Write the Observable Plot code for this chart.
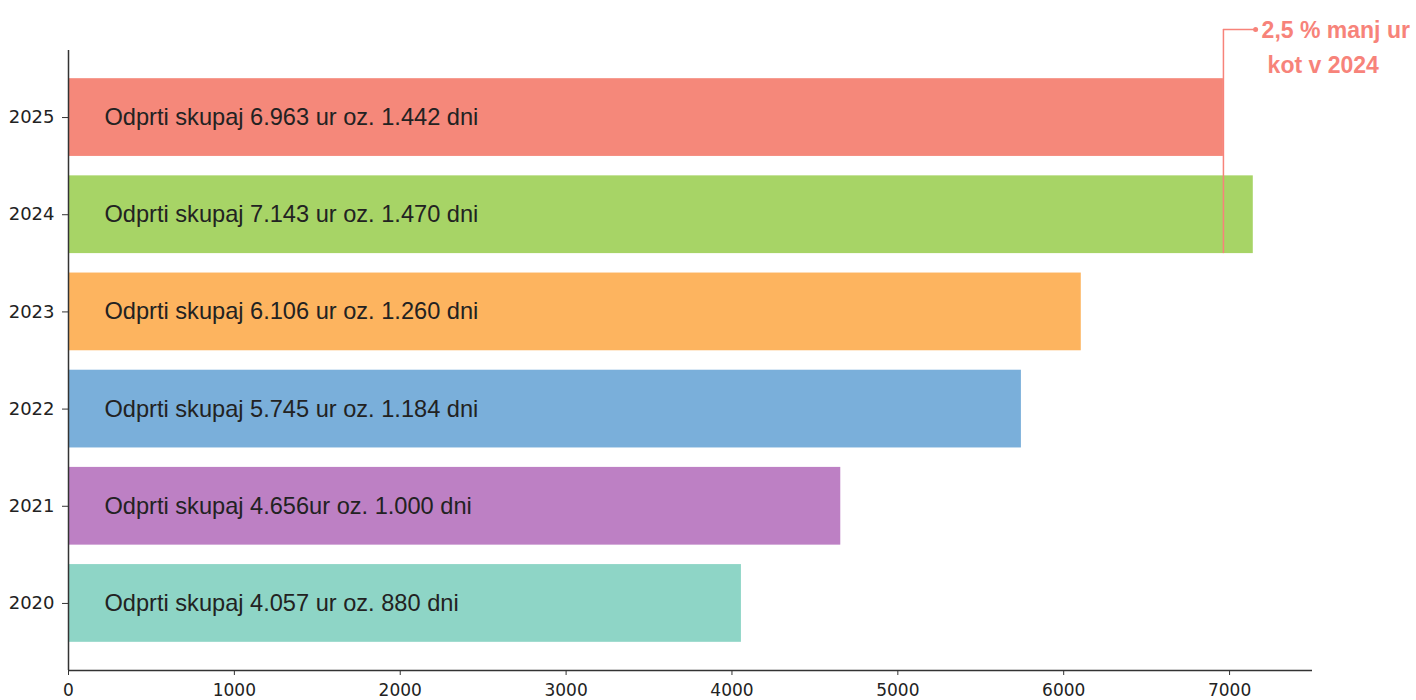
<!DOCTYPE html>
<html>
<head>
<meta charset="utf-8">
<script src="https://cdn.jsdelivr.net/npm/d3@7"></script>
<script src="https://cdn.jsdelivr.net/npm/@observablehq/plot@0.6"></script>
<style>
  html, body { margin: 0; padding: 0; background: #fff; }
  #chart { width: 1416px; height: 700px; overflow: hidden; }
</style>
</head>
<body>
<div id="chart"></div>
<script>
// ---- data ----
const years  = ["2020", "2021", "2022", "2023", "2024", "2025"];
const hours  = [4057, 4656, 5745, 6106, 7143, 6963];
const labels = [
  "Odprti skupaj 4.057 ur oz. 880 dni",
  "Odprti skupaj 4.656ur oz. 1.000 dni",
  "Odprti skupaj 5.745 ur oz. 1.184 dni",
  "Odprti skupaj 6.106 ur oz. 1.260 dni",
  "Odprti skupaj 7.143 ur oz. 1.470 dni",
  "Odprti skupaj 6.963 ur oz. 1.442 dni"
];
const colors = ["#8ed5c6", "#bd80c4", "#7aafda", "#fdb45f", "#a7d466", "#f5887a"];
const xTicks = [0, 1000, 2000, 3000, 4000, 5000, 6000, 7000];
const annotationLines = ["2,5 % manj ur", "kot v 2024"];
const annotationColor = "#f7837a";

const rows = years.map((y, i) => ({i, year: y, value: hours[i], label: labels[i], color: colors[i]}));

const half = 0.4;              // half bar thickness (category units)
const yMin = -0.69, yMax = 5.69;
const annTop = yMax + 0.215;   // annotation leader height
const ann2025 = rows[5], ann2024 = rows[4];
const annEnd = 7157;

const chart = Plot.plot({
  width: 1416,
  height: 700,
  marginLeft: 68,
  marginRight: 104,
  marginTop: 50,
  marginBottom: 30,
  style: {fontFamily: "DejaVu Sans, sans-serif", background: "#fff", overflow: "visible"},
  x: {domain: [0, 7500], axis: null, label: null},
  y: {domain: [yMin, yMax], axis: null, label: null},
  marks: [
    Plot.rectX(rows, {x1: 0, x2: "value", y1: d => d.i - half, y2: d => d.i + half, fill: "color"}),
    Plot.text(rows, {x: 0, y: "i", text: "label", textAnchor: "start", dx: 36, fontSize: 23.6, fill: "#222",
      fontFamily: "Liberation Sans, Arial, sans-serif"}),
    // axes
    Plot.axisX({ticks: xTicks, tickFormat: d3.format("d"), label: null, tickSize: 5, tickPadding: 8, fontSize: 17, anchor: "bottom", color: "#222", stroke: "#333"}),
    Plot.axisY({ticks: rows.map(d => d.i), tickFormat: i => years[i], label: null, tickSize: 6, tickPadding: 8, fontSize: 18, anchor: "left", color: "#222", stroke: "#333"}),
    Plot.ruleY([yMin], {x1: 0, x2: 7500, stroke: "#333", strokeWidth: 1.5}),
    Plot.ruleX([0], {y1: yMin, y2: yMax, stroke: "#333", strokeWidth: 1.5}),
    // annotation
    Plot.ruleX([ann2025.value], {y1: ann2024.i - half, y2: annTop, stroke: annotationColor, strokeWidth: 1.5}),
    Plot.ruleY([annTop], {x1: ann2025.value, x2: annEnd, stroke: annotationColor, strokeWidth: 1.5}),
    Plot.dot([annEnd], {x: d => d, y: annTop, r: 2.5, fill: annotationColor}),
    Plot.text([annotationLines[0]], {x: annEnd, y: annTop, text: d => d, textAnchor: "start", dx: 6, dy: 1,
      fontSize: 23, fontWeight: "bold", fill: annotationColor, fontFamily: "Liberation Sans, Arial, sans-serif"}),
    Plot.text([annotationLines[1]], {x: annEnd, y: annTop, text: d => d, textAnchor: "start", dx: 12, dy: 36,
      fontSize: 23, fontWeight: "bold", fill: annotationColor, fontFamily: "Liberation Sans, Arial, sans-serif"})
  ]
});
document.getElementById("chart").appendChild(chart);
</script>
</body>
</html>
